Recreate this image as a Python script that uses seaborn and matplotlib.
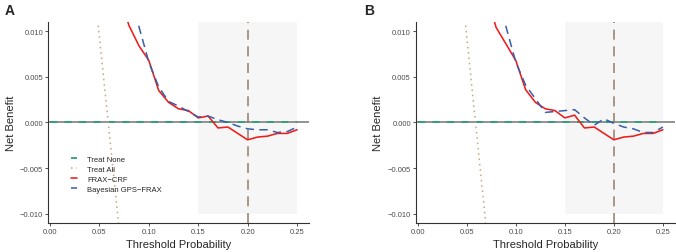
import numpy as np
import pandas as pd
import seaborn as sns
import matplotlib.pyplot as plt

# threshold grid (x) shared by both panels
thresholds = [0.07, 0.08, 0.09, 0.10, 0.11, 0.12, 0.13, 0.14, 0.15, 0.16, 0.17,
              0.18, 0.19, 0.20, 0.21, 0.22, 0.23, 0.24, 0.25]

# panel A
frax_crf_a = [0.0140, 0.0106, 0.0084, 0.0068, 0.0035, 0.0022, 0.0015, 0.0013, 0.0005, 0.0007,
              -0.0006, -0.0005, -0.0012, -0.0019, -0.0016, -0.0015, -0.0012, -0.0012, -0.0008]
bayes_a = [0.0190, 0.0150, 0.0105, 0.0066, 0.0039, 0.0023, 0.0018, 0.0012, 0.0006, 0.0007,
           0.0003, 0.0000, -0.0004, -0.0007, -0.0008, -0.0008, -0.0011, -0.0010, -0.0005]

# panel B
frax_crf_b = [0.0140, 0.0104, 0.0086, 0.0068, 0.0036, 0.0022, 0.0015, 0.0013, 0.0005, 0.0008,
              -0.0006, -0.0005, -0.0012, -0.0019, -0.0016, -0.0015, -0.0012, -0.0012, -0.0008]
bayes_b = [0.0190, 0.0150, 0.0105, 0.0066, 0.0041, 0.0026, 0.0011, 0.0012, 0.0013, 0.0014,
           0.0005, -0.0003, 0.0004, -0.0001, -0.0005, -0.0007, -0.0011, -0.0011, -0.0005]

# treat all / treat none
treat_all_x = [0.045, 0.05, 0.055, 0.06, 0.065, 0.07, 0.075]
treat_all_y = [0.0145, 0.0094, 0.0041, -0.0011, -0.0064, -0.0117, -0.0170]
treat_none_x = [0.0, 0.25]
treat_none_y = [0.0, 0.0]

panel_labels = ["A", "B"]
xticks = [0.00, 0.05, 0.10, 0.15, 0.20, 0.25]
yticks = [-0.010, -0.005, 0.000, 0.005, 0.010]

sns.set_style("white")
plt.rcParams['font.family'] = ['Liberation Sans', 'DejaVu Sans']

fig = plt.figure(figsize=(6.76, 2.53), dpi=100)
ax_a = fig.add_axes([0.071, 0.115, 0.386, 0.794])
ax_b = fig.add_axes([0.615, 0.115, 0.383, 0.794])

c_none = "#2E9E7C"
c_all = "#C4A580"
c_red = "#EE1C1C"
c_blue = "#3A5DA8"


def draw_panel(ax, frax, bayes, show_legend):
    # shaded region and reference lines
    ax.fill_between([0.15, 0.25], -0.010, 0.011, color="#F6F6F6", lw=0, zorder=0)
    ax.axhline(0, color="#8A8A8A", lw=1.3, zorder=1)
    ax.axvline(0.20, color="#8B7460", lw=1.2, ls=(0, (6, 4)), alpha=0.85, zorder=2)

    sns.lineplot(x=treat_none_x, y=treat_none_y, ax=ax, color=c_none, lw=1.3,
                 linestyle=(0, (4, 4)), label="Treat None", zorder=3)
    sns.lineplot(x=treat_all_x, y=treat_all_y, ax=ax, color=c_all, lw=1.1,
                 linestyle=(0, (1, 2.5)), label="Treat All", zorder=3)
    sns.lineplot(x=thresholds, y=frax, ax=ax, color=c_red, lw=1.15,
                 label="FRAX\u2212CRF", zorder=4)
    sns.lineplot(x=thresholds, y=bayes, ax=ax, color=c_blue, lw=1.1,
                 linestyle=(0, (5.5, 3.5)), label="Bayesian GPS\u2212FRAX", zorder=4)

    ax.set_xlim(-0.002, 0.262)
    ax.set_ylim(-0.011, 0.011)
    ax.set_xticks(xticks)
    ax.set_xticklabels([f"{t:.2f}" for t in xticks])
    ax.set_yticks(yticks)
    ax.set_yticklabels([f"{t:.3f}".replace("-", "\u2212") for t in yticks])
    ax.tick_params(axis="both", labelsize=5.5, length=2, width=0.6, color="#333333",
                   labelcolor="#4D4D4D", pad=1.5, bottom=True, left=True)
    ax.set_xlabel("Threshold Probability", fontsize=8, labelpad=3)
    ax.set_ylabel("Net Benefit", fontsize=8, labelpad=3)
    for side in ["top", "right"]:
        ax.spines[side].set_visible(False)
    for side in ["left", "bottom"]:
        ax.spines[side].set_color("#333333")
        ax.spines[side].set_linewidth(0.8)

    if show_legend:
        ax.legend(loc="lower left", bbox_to_anchor=(0.075, 0.13), fontsize=5.5,
                  frameon=False, handlelength=0.8, handletextpad=1.3,
                  labelspacing=0.35, borderpad=0)
    else:
        ax.get_legend().remove()


draw_panel(ax_a, frax_crf_a, bayes_a, True)
draw_panel(ax_b, frax_crf_b, bayes_b, False)

fig.text(0.007, 0.985, panel_labels[0], fontsize=10, fontweight="bold", va="top")
fig.text(0.538, 0.985, panel_labels[1], fontsize=10, fontweight="bold", va="top")

fig.savefig("out.png", dpi=100)
